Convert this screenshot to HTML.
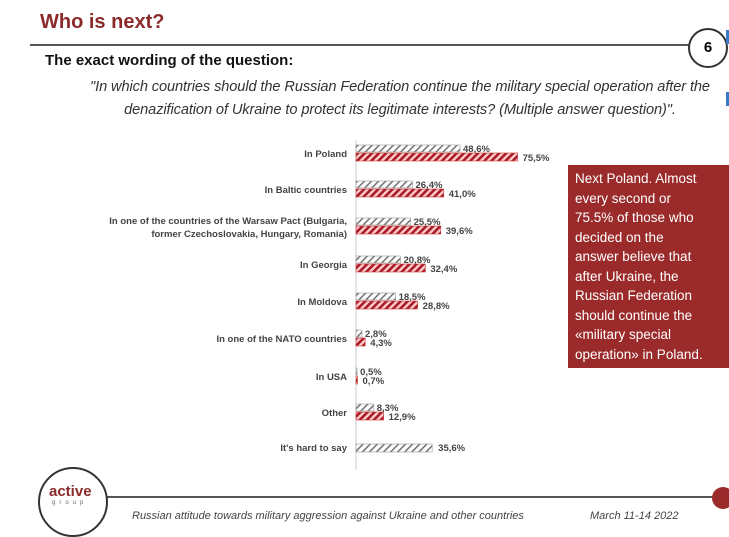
<!DOCTYPE html>
<html><head><style>
body{margin:0;width:729px;height:529px;background:#fff;position:relative;overflow:hidden;font-family:"Liberation Sans",sans-serif}
.a{position:absolute}
</style></head><body>
<div class="a" style="left:40px;top:11px;font-size:20px;font-weight:bold;color:#8b2a2a">Who is next?</div>
<div class="a" style="left:30px;top:44px;width:660px;height:2px;background:#555"></div>
<div class="a" style="left:688px;top:28px;width:36px;height:36px;border:2px solid #333;border-radius:50%;background:#fff;text-align:center;line-height:36px;font-weight:bold;font-size:15px">6</div>
<div class="a" style="left:726px;top:30px;width:3px;height:14px;background:#3a78c8"></div>
<div class="a" style="left:726px;top:92px;width:3px;height:14px;background:#3a78c8"></div>
<div class="a" style="left:45px;top:52px;font-size:15px;font-weight:bold;color:#111">The exact wording of the question:</div>
<div class="a" style="left:70px;top:76px;width:660px;text-align:center;font-size:14.6px;font-style:italic;color:#333;line-height:23px;letter-spacing:-0.1px">"In which countries should the Russian Federation continue the military special operation after the<br>denazification of Ukraine to protect its legitimate interests? (Multiple answer question)".</div>
<svg class="a" style="left:0;top:0" width="729" height="529">
<defs>
<pattern id="g" width="5" height="5" patternUnits="userSpaceOnUse" patternTransform="rotate(45)"><rect width="5" height="5" fill="#fff"/><rect width="1.6" height="5" fill="#777"/></pattern>
<pattern id="r" width="5" height="5" patternUnits="userSpaceOnUse" patternTransform="rotate(45)"><rect width="5" height="5" fill="#fcc"/><rect width="2.6" height="5" fill="#a81c28"/></pattern>
</defs>
<line x1="356" y1="140" x2="356" y2="470" stroke="#ccc"/>
<g font-family="Liberation Sans" font-size="9.5" font-weight="bold" fill="#444">
<g id="rows"></g>
</g>
</svg>
<div class="a" style="left:568px;top:165px;width:161px;height:203px;background:#9b2b2b;color:#fff;font-size:13.5px;line-height:19.5px;padding:4px 0 4px 7px;box-sizing:border-box;white-space:nowrap">Next Poland. Almost<br>every second or<br>75.5% of those who<br>decided on the<br>answer believe that<br>after Ukraine, the<br>Russian Federation<br>should continue the<br>«military special<br>operation» in Poland.</div>
<div class="a" style="left:105px;top:496px;width:610px;height:2px;background:#555"></div>
<div class="a" style="left:712px;top:487px;width:22px;height:22px;border-radius:50%;background:#9b2b2b"></div>
<div class="a" style="left:38px;top:467px;width:66px;height:66px;border:2px solid #333;border-radius:50%;background:#fff"></div>
<div class="a" style="left:49px;top:483px;font-size:15px;font-weight:bold;color:#8b2a2a">active</div>
<div class="a" style="left:52px;top:500px;font-size:6px;letter-spacing:4px;color:#666">group</div>
<div class="a" style="left:132px;top:510px;font-size:11px;font-style:italic;color:#444">Russian attitude towards military aggression against Ukraine and other countries</div>
<div class="a" style="left:590px;top:510px;font-size:11px;font-style:italic;color:#444">March 11-14 2022</div>
<script>
const d=[["In Poland",154,48.6,75.5],["In Baltic countries",190,26.4,41.0],["",227,25.5,39.6],["In Georgia",265,20.8,32.4],["In Moldova",302,18.5,28.8],["In one of the NATO countries",339,2.8,4.3],["In USA",377,0.5,0.7],["Other",413,8.3,12.9],["It's hard to say",448,35.6,null]];
let s="";const k=2.14,x0=356;
for(const [l,y,g,r] of d){
 if(l)s+=`<text x="347" y="${y+3}" text-anchor="end">${l}</text>`;
 if(r===null){s+=`<rect x="${x0}" y="${y-4}" width="${g*k}" height="8" fill="url(#g)" stroke="#999" stroke-width=".6"/><text x="${x0+g*k+6}" y="${y+3}">${g.toFixed(1).replace('.',',')}%</text>`;continue;}
 s+=`<rect x="${x0}" y="${y-9}" width="${g*k}" height="7" fill="url(#g)" stroke="#999" stroke-width=".6"/>`;
 s+=`<rect x="${x0}" y="${y-1}" width="${r*k}" height="8" fill="url(#r)" stroke="#c33" stroke-width=".6"/>`;
 s+=`<text x="${x0+g*k+3}" y="${y-2}">${g.toFixed(1).replace('.',',')}%</text>`;
 s+=`<text x="${x0+r*k+5}" y="${y+7}">${r.toFixed(1).replace('.',',')}%</text>`;
}
s+=`<text x="347" y="224" text-anchor="end">In one of the countries of the Warsaw Pact (Bulgaria,</text><text x="347" y="237" text-anchor="end">former Czechoslovakia, Hungary, Romania)</text>`;
document.getElementById("rows").innerHTML=s;
</script>
</body></html>
